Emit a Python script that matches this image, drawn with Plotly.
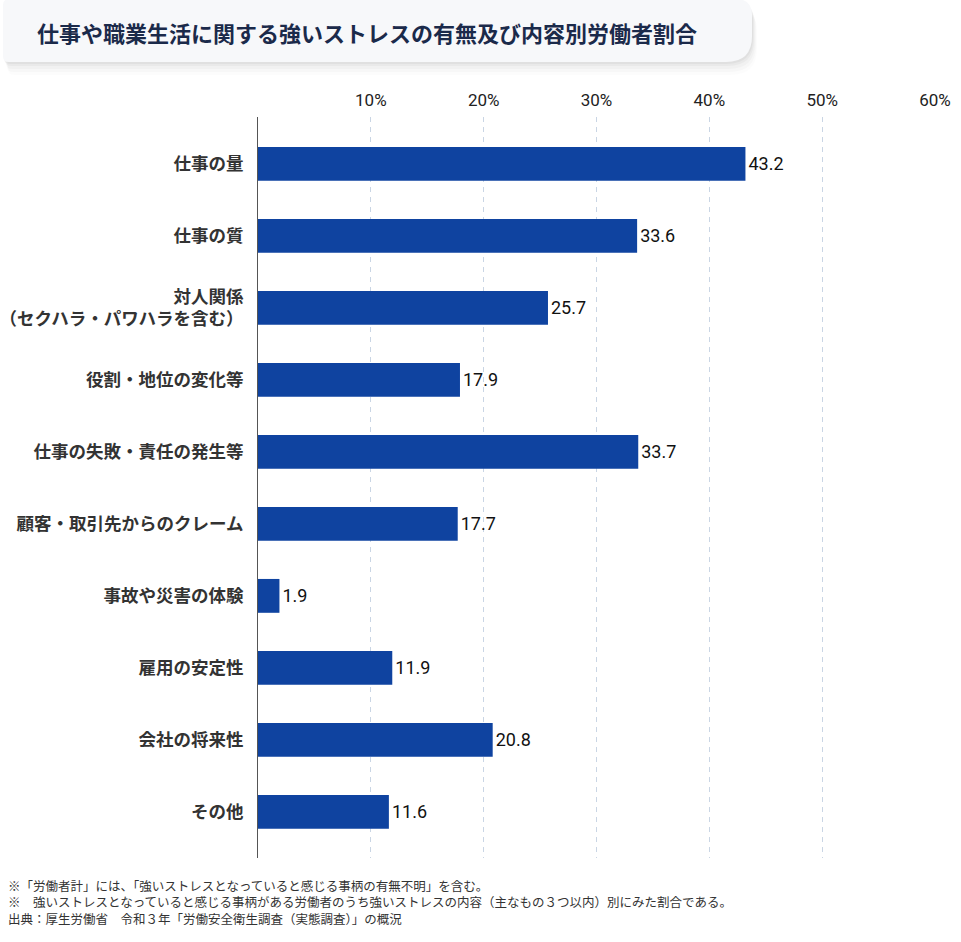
import plotly.graph_objects as go

categories = [
    "仕事の量",
    "仕事の質",
    "対人関係<br>（セクハラ・パワハラを含む）",
    "役割・地位の変化等",
    "仕事の失敗・責任の発生等",
    "顧客・取引先からのクレーム",
    "事故や災害の体験",
    "雇用の安定性",
    "会社の将来性",
    "その他",
]
values = [43.2, 33.6, 25.7, 17.9, 33.7, 17.7, 1.9, 11.9, 20.8, 11.6]
tick_vals = [10, 20, 30, 40, 50, 60]
tick_text = ["10%", "20%", "30%", "40%", "50%", "60%"]

title_text = "仕事や職業生活に関する強いストレスの有無及び内容別労働者割合"
notes = [
    "※「労働者計」には、「強いストレスとなっていると感じる事柄の有無不明」を含む。",
    "※　強いストレスとなっていると感じる事柄がある労働者のうち強いストレスの内容（主なもの３つ以内）別にみた割合である。",
    "出典：厚生労働省　令和３年「労働安全衛生調査（実態調査）」の概況",
]

W, H = 961, 942
ML, MR, MT, MB = 258, 26, 117, 84
PW, PH = W - ML - MR, H - MT - MB

def fx(px):
    return (px - ML) / PW

def fy(py):
    return (H - MB - py) / PH

def rounded_path(x0, y0, x1, y1, r_tl, r_tr, r_br, r_bl):
    pts = []
    pts.append(f"M {fx(x0 + r_tl)},{fy(y0)}")
    pts.append(f"L {fx(x1 - r_tr)},{fy(y0)}")
    pts.append(f"Q {fx(x1)},{fy(y0)} {fx(x1)},{fy(y0 + r_tr)}")
    pts.append(f"L {fx(x1)},{fy(y1 - r_br)}")
    pts.append(f"Q {fx(x1)},{fy(y1)} {fx(x1 - r_br)},{fy(y1)}")
    pts.append(f"L {fx(x0 + r_bl)},{fy(y1)}")
    pts.append(f"Q {fx(x0)},{fy(y1)} {fx(x0)},{fy(y1 - r_bl)}")
    pts.append(f"L {fx(x0)},{fy(y0 + r_tl)}")
    pts.append(f"Q {fx(x0)},{fy(y0)} {fx(x0 + r_tl)},{fy(y0)}")
    pts.append("Z")
    return " ".join(pts)

shapes = []
# soft shadow
for dx, dy, a in [(1, 2, 0.035), (2, 4, 0.03), (3, 7, 0.025), (4, 10, 0.02), (5, 13, 0.012)]:
    shapes.append(dict(
        type="path", xref="paper", yref="paper",
        path=rounded_path(3 + dx, 0 + dy, 752 + dx, 62 + dy, 6, 16, 26, 6),
        fillcolor=f"rgba(0,0,0,{a})", line=dict(width=0), layer="below",
    ))
shapes.append(dict(
    type="path", xref="paper", yref="paper",
    path=rounded_path(3, -1, 752, 62, 6, 16, 26, 6),
    fillcolor="#f7f8fa", line=dict(width=0), layer="below",
))

font_main = "Roboto, 'Noto Sans CJK JP', sans-serif"
font_jp = "'Noto Sans CJK JP', sans-serif"

fig = go.Figure()
fig.add_trace(go.Bar(
    y=categories,
    x=values,
    orientation="h",
    width=0.47,
    marker=dict(color="#0f43a0", line=dict(width=0)),
    text=[f"{v:.1f}" for v in values],
    textposition="outside",
    textfont=dict(family=font_main, size=18, color="#111111"),
    cliponaxis=False,
    hoverinfo="skip",
))

annotations = [dict(
    xref="paper", yref="paper", x=fx(35), y=fy(32),
    xanchor="left", yanchor="middle", showarrow=False,
    text=f"<b>{title_text}</b>",
    font=dict(family=font_jp, size=22, color="#1b2a4a"),
)]
annotations.append(dict(
    xref="paper", yref="paper", x=fx(6), y=fy(902),
    xanchor="left", yanchor="middle", align="left", showarrow=False,
    text="<br>".join(notes),
    font=dict(family=font_jp, size=12.5, color="#333333"),
))

fig.update_layout(
    width=W, height=H,
    margin=dict(l=ML, r=MR, t=MT, b=MB, pad=0, autoexpand=False),
    paper_bgcolor="white", plot_bgcolor="white",
    showlegend=False,
    shapes=shapes,
    annotations=annotations,
    xaxis=dict(
        side="top", range=[0, 60], tickvals=tick_vals, ticktext=tick_text,
        showgrid=True, gridcolor="#c9d5e4", gridwidth=1, griddash="5px,5px",
        zeroline=False, showline=False, ticks="",
        ticklabelstandoff=7, automargin=False,
        tickfont=dict(family=font_main, size=17, color="#222222", weight=400),
        fixedrange=True,
    ),
    yaxis=dict(
        type="category", range=[9.64, -0.65], automargin=False,
        showline=True, linecolor="#555555", linewidth=1,
        showgrid=False, zeroline=False, ticks="",
        ticklabelstandoff=10,
        tickfont=dict(family=font_jp, size=17.5, color="#333333", weight=600),
        fixedrange=True,
    ),
)

fig.write_html("out.html")
